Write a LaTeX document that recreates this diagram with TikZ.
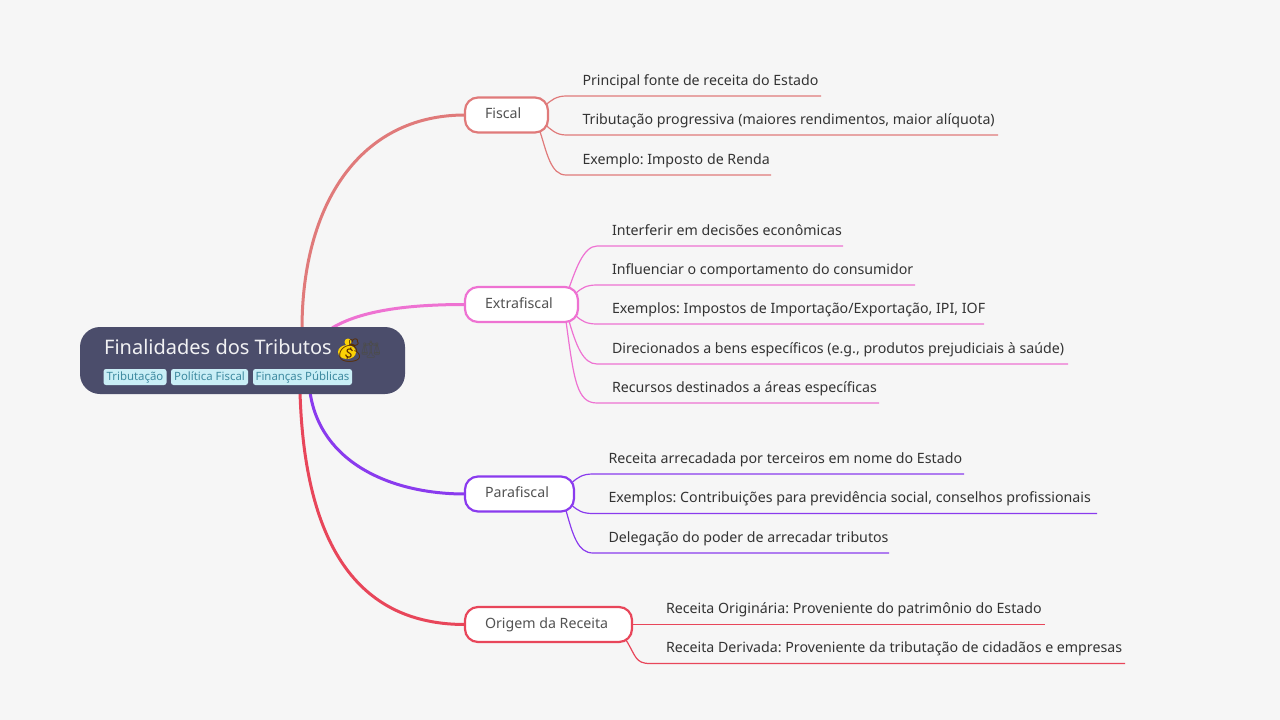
\documentclass[tikz,border=0pt]{standalone}
\usepackage{fontspec}
\setmainfont{Noto Sans}
\newfontfamily\emojifont{Noto Emoji}
\usetikzlibrary{calc}
\pgfdeclarelayer{bgl}\pgfdeclarelayer{edges}
\pgfsetlayers{bgl,edges,main}
\definecolor{pagebg}{HTML}{F6F6F6}
\definecolor{rootc}{HTML}{4B4D6B}
\definecolor{cf}{HTML}{E07A7A}
\definecolor{ce}{HTML}{EE72D2}
\definecolor{cp}{HTML}{8A3BEE}
\definecolor{co}{HTML}{E8465A}
\definecolor{tagbg}{HTML}{C9EEF6}
\definecolor{tagfg}{HTML}{3E8AA0}
\tikzset{
 x=1pt,y=-1pt,
 rootbox/.style={fill=rootc,rounded corners=20pt,minimum width=325pt,minimum height=67pt,inner sep=0pt,outer sep=0pt,anchor=north west},
 tagbox/.style={fill=tagbg,text=tagfg,rounded corners=2.5pt,inner sep=0pt,outer sep=0pt,anchor=north west,minimum height=16pt,font=\fontsize{11.4}{12}\selectfont,text height=8.5pt,text depth=2.5pt,align=center},
 branch/.style={draw=#1,fill=white,line width=2.2pt,rounded corners=13pt,minimum height=35pt,inner sep=0pt,outer sep=0pt,anchor=north west,text=black!68,font=\fontsize{14.2}{16}\selectfont,text height=10pt,text depth=2.5pt},
 leaf/.style={inner sep=0pt,outer sep=0pt,anchor=south west,text=black!80,text height=10pt,text depth=11pt,font=\frenchspacing\fontsize{14.2}{16}\selectfont},
 trunk/.style={draw=#1,line width=3pt},
 twig/.style={draw=#1,line width=1.2pt},
}
\newcommand{\lf}[5]{\node[leaf] (#1) at (#2) {\makebox[#3pt][l]{\hspace*{#4pt}#5}};}
\newcommand{\br}[5]{\node[branch=#1] (#2) at (#3) {\makebox[#4pt][l]{\hspace*{20pt}#5}};}
\begin{document}
\begin{tikzpicture}
\begin{pgfonlayer}{bgl}
\fill[pagebg] (0,0) rectangle (1280,720);
\end{pgfonlayer}
\useasboundingbox (0,0) rectangle (1280,720);
% root
\node[rootbox] (root) at (80,327) {};
\node[anchor=base west,inner sep=0pt,text=white!92!rootc,font=\fontsize{20}{22}\selectfont] (title) at (104,354) {Finalidades dos Tributos};
\fill[yellow!70!orange] (347,352) ellipse (9 and 7);
\fill[yellow!70!orange] (348,342) circle (3.5);
\node[anchor=base west,inner sep=0pt,text=black!65!orange,font=\emojifont\fontsize{23}{24}\selectfont] (bag) at (335,358) {💰};
\node[anchor=base west,inner sep=0pt,text=black!70,font=\emojifont\fontsize{17}{20}\selectfont] (scale) at (360,355) {⚖};
\node[tagbox,minimum width=63pt] (t1) at (103.5,369) {Tributação};
\node[tagbox,minimum width=77pt] (t2) at (171,369) {Política Fiscal};
\node[tagbox,minimum width=99pt] (t3) at (253,369) {Finanças Públicas};
% branches
\br{cf}{fiscal}{465,97.5}{83}{Fiscal}
\br{ce}{extra}{465,287}{113}{Extrafiscal}
\br{cp}{para}{465,476.5}{109}{Parafiscal}
\br{co}{orig}{465,607}{167}{Origem da Receita}
% leaves: bottom-left corner is where the underline starts
\lf{f1}{566,96}{255}{16.5}{Principal fonte de receita do Estado}
\lf{f2}{566,135}{432}{16.5}{Tributação progressiva (maiores rendimentos, maior alíquota)}
\lf{f3}{566,175}{205}{16.5}{Exemplo: Imposto de Renda}
\lf{e1}{597,246}{246}{15}{Interferir em decisões econômicas}
\lf{e2}{597,285}{318}{15}{Influenciar o comportamento do consumidor}
\lf{e3}{597,324}{387}{15}{Exemplos: Impostos de Importação/Exportação, IPI, IOF}
\lf{e4}{597,364}{471}{15}{Direcionados a bens específicos (e.g., produtos prejudiciais à saúde)}
\lf{e5}{597,403}{282}{15}{Recursos destinados a áreas específicas}
\lf{p1}{593,474}{371}{15.5}{Receita arrecadada por terceiros em nome do Estado}
\lf{p2}{593,513.5}{504}{15.5}{Exemplos: Contribuições para previdência social, conselhos profissionais}
\lf{p3}{593,553}{296}{15.5}{Delegação do poder de arrecadar tributos}
\lf{o1}{650,624}{395}{16}{Receita Originária: Proveniente do patrimônio do Estado}
\lf{o2}{650,663.5}{475}{16}{Receita Derivada: Proveniente da tributação de cidadãos e empresas}
\begin{pgfonlayer}{edges}
% trunks
\draw[trunk=cf] ($(root.north west)+(222,2)$) .. controls +(0,-125) and +(-105,0) .. (fiscal.west);
\draw[trunk=ce] ($(root.north west)+(252,1)$) .. controls +(30,-18) and +(-55,0) .. (extra.west);
\draw[trunk=cp] ($(root.south west)+(230,-2)$) .. controls +(10,70) and +(-75,0) .. (para.west);
\draw[trunk=co] ($(root.south west)+(220,-2)$) .. controls +(5,170) and +(-95,0) .. (orig.west);
% twigs
\draw[twig=cf] ($(fiscal.north east)+(-3,8)$) .. controls +(6,-5) and +(-10,0) .. (f1.south west) -- (f1.south east);
\draw[twig=cf] ($(fiscal.south east)+(-3,-8)$) .. controls +(6,5) and +(-10,0) .. (f2.south west) -- (f2.south east);
\draw[twig=cf] ($(fiscal.south east)+(-8,-1)$) .. controls +(7,22) and +(-15,0) .. (f3.south west) -- (f3.south east);
\draw[twig=ce] ($(extra.north east)+(-9,1)$) .. controls +(6,-16) and +(-14,0) .. (e1.south west) -- (e1.south east);
\draw[twig=ce] ($(extra.north east)+(-2,6)$) .. controls +(6,-5) and +(-11,0) .. (e2.south west) -- (e2.south east);
\draw[twig=ce] ($(extra.south east)+(-2,-6)$) .. controls +(6,5) and +(-11,0) .. (e3.south west) -- (e3.south east);
\draw[twig=ce] ($(extra.south east)+(-9,-1)$) .. controls +(7,24) and +(-14,0) .. (e4.south west) -- (e4.south east);
\draw[twig=ce] ($(extra.south east)+(-12,-1)$) .. controls +(8,60) and +(-20,0) .. (e5.south west) -- (e5.south east);
\draw[twig=cp] ($(para.north east)+(-2,6)$) .. controls +(6,-5) and +(-11,0) .. (p1.south west) -- (p1.south east);
\draw[twig=cp] ($(para.south east)+(-2,-6)$) .. controls +(6,5) and +(-11,0) .. (p2.south west) -- (p2.south east);
\draw[twig=cp] ($(para.south east)+(-8,-1)$) .. controls +(7,25) and +(-15,0) .. (p3.south west) -- (p3.south east);
\draw[twig=co] (orig.east) -- (orig.east -| o1.south east);
\draw[twig=co] ($(orig.south east)+(-6,-2)$) .. controls +(10,16) and +(-15,0) .. (o2.south west) -- (o2.south east);
\end{pgfonlayer}
\end{tikzpicture}
\end{document}
